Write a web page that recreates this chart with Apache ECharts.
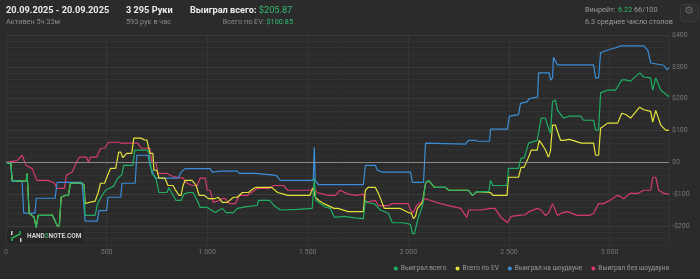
<!DOCTYPE html>
<html><head><meta charset="utf-8">
<script src="https://cdn.jsdelivr.net/npm/echarts@6/dist/echarts.min.js"></script>
<style>html,body{margin:0;padding:0;background:#2b2b2b;}#c{width:700px;height:279px;}</style>
</head><body><div id="c"></div>
<script>
// ---- data (hand number, $ value) ----
const seriesNames = ['Выиграл всего', 'Всего по EV', 'Выиграл на шоудауне', 'Выиграл без шоудауна'];
const xTicks = [0, 500, 1000, 1500, 2000, 2500, 3000];
const yTicks = [-200, -100, 0, 100, 200, 300, 400];

const wonTotal = [[0,0],[25,-5],[30,-57],[100,-60],[105,-35],[108,-35],[115,-160],[140,-173],[150,-205],[160,-167],[220,-167],[230,-165],[255,-200],[265,-200],[274,-110],[295,-104],[310,-104],[320,-66],[370,-66],[388,-70],[393,-167],[443,-167],[455,-130],[478,-104],[495,-88],[535,-75],[555,-50],[575,-40],[585,-10],[630,-10],[640,38],[700,38],[710,30],[725,-35],[745,-50],[760,-95],[800,-95],[810,-80],[845,-120],[870,-120],[885,-100],[905,-95],[930,-95],[955,-126],[965,-142],[1000,-142],[1040,-158],[1060,-150],[1075,-145],[1095,-158],[1130,-158],[1150,-145],[1190,-140],[1199,-135],[1249,-135],[1255,-120],[1310,-120],[1330,-135],[1363,-150],[1448,-148],[1522,-145],[1532,-50],[1540,-120],[1585,-140],[1612,-145],[1632,-173],[1680,-170],[1735,-175],[1776,-177],[1786,-120],[1800,-128],[1830,-130],[1861,-150],[1900,-160],[1920,-190],[1975,-190],[2010,-195],[2020,-224],[2030,-224],[2045,-183],[2070,-136],[2085,-66],[2100,-57],[2130,-79],[2184,-79],[2200,-88],[2298,-88],[2318,-104],[2340,-92],[2400,-92],[2408,-57],[2420,-73],[2490,-73],[2497,-19],[2547,-19],[2560,13],[2575,13],[2597,60],[2640,69],[2660,139],[2680,139],[2691,117],[2706,91],[2716,190],[2730,196],[2741,164],[2770,139],[2800,145],[2856,145],[2870,132],[2920,132],[2930,101],[2945,101],[2955,218],[2990,227],[3030,227],[3060,259],[3080,259],[3104,255],[3149,281],[3170,268],[3204,265],[3214,227],[3229,265],[3254,227],[3295,206]];

const evTotal = [[0,0],[25,-5],[30,-57],[100,-60],[105,-35],[108,-35],[115,-160],[140,-173],[150,-205],[160,-167],[220,-167],[230,-165],[255,-200],[265,-200],[274,-110],[295,-104],[310,-104],[320,-66],[370,-66],[388,-70],[393,-130],[420,-125],[443,-122],[458,-95],[470,-66],[490,-66],[505,-41],[520,-19],[545,-19],[560,32],[570,32],[580,15],[600,28],[625,28],[635,76],[670,76],[690,70],[700,70],[715,28],[730,28],[735,-25],[750,-25],[760,-50],[790,-50],[805,-73],[830,-73],[840,-85],[860,-104],[870,-104],[880,-73],[890,-57],[925,-57],[945,-73],[960,-104],[985,-104],[1005,-114],[1040,-114],[1055,-110],[1075,-126],[1100,-126],[1130,-110],[1150,-110],[1175,-95],[1205,-95],[1225,-85],[1240,-79],[1320,-79],[1350,-95],[1380,-100],[1400,-104],[1510,-104],[1527,-80],[1537,-110],[1555,-120],[1580,-130],[1630,-145],[1650,-145],[1700,-155],[1776,-155],[1786,-88],[1800,-79],[1836,-79],[1855,-104],[1880,-145],[1960,-145],[2000,-158],[2015,-160],[2025,-177],[2035,-170],[2045,-145],[2070,-126],[2085,-66],[2100,-57],[2130,-79],[2184,-79],[2200,-88],[2298,-88],[2318,-104],[2340,-92],[2408,-95],[2420,-104],[2490,-104],[2497,-47],[2547,-47],[2560,-16],[2575,-16],[2597,16],[2610,38],[2640,38],[2650,69],[2660,60],[2680,40],[2696,16],[2706,35],[2716,117],[2730,117],[2756,69],[2771,69],[2800,72],[2860,60],[2920,60],[2930,22],[2945,22],[2955,107],[2990,123],[3040,123],[3060,154],[3080,150],[3104,139],[3149,173],[3170,165],[3204,160],[3214,126],[3229,163],[3254,117],[3280,100],[3295,101]];

const wonShowdown = [[0,0],[25,-5],[30,-60],[80,-60],[88,-160],[144,-160],[150,-113],[244,-113],[254,-63],[378,-63],[393,-185],[453,-185],[463,-152],[500,-152],[507,-110],[570,-110],[577,-66],[642,-66],[650,22],[706,22],[716,-10],[741,-50],[856,-50],[870,-31],[890,-20],[1015,-20],[1025,-31],[1065,-28],[1149,-28],[1159,-35],[1240,-35],[1249,-41],[1343,-41],[1363,-57],[1527,-57],[1532,47],[1537,-57],[1552,-70],[1776,-70],[1786,-10],[1836,-10],[1846,-25],[1870,-31],[2010,-31],[2020,-63],[2075,-63],[2085,60],[2284,57],[2298,69],[2333,69],[2343,66],[2403,66],[2408,104],[2492,104],[2502,145],[2547,150],[2557,185],[2590,190],[2600,200],[2642,205],[2647,281],[2700,281],[2706,258],[2716,265],[2721,330],[2741,306],[2920,306],[2930,265],[2945,265],[2955,344],[2990,353],[3030,360],[3055,366],[3169,366],[3189,353],[3204,312],[3269,305],[3285,290],[3295,298]];

const wonNoShowdown = [[0,0],[30,3],[55,5],[80,22],[88,22],[100,-10],[130,-20],[154,-57],[210,-57],[240,-65],[254,-82],[290,-82],[300,-41],[330,-30],[350,0],[365,16],[400,16],[410,0],[420,16],[450,16],[470,44],[490,44],[510,63],[560,63],[570,60],[655,60],[665,50],[675,44],[715,44],[725,0],[745,0],[755,-35],[800,-35],[830,-45],[880,-50],[900,-66],[925,-73],[950,-73],[965,-50],[990,-50],[1000,-88],[1015,-88],[1030,-126],[1060,-120],[1075,-114],[1090,-114],[1110,-130],[1140,-130],[1160,-104],[1200,-104],[1220,-95],[1250,-82],[1310,-82],[1330,-73],[1380,-73],[1400,-88],[1515,-88],[1527,-79],[1547,-95],[1600,-104],[1637,-104],[1660,-88],[1700,-100],[1740,-104],[1776,-100],[1786,-126],[1836,-120],[1850,-136],[1900,-136],[1920,-130],[2000,-130],[2010,-150],[2025,-158],[2040,-136],[2060,-126],[2085,-114],[2110,-120],[2159,-130],[2200,-136],[2260,-145],[2290,-173],[2300,-150],[2358,-150],[2408,-145],[2430,-145],[2460,-173],[2492,-190],[2510,-170],[2547,-167],[2580,-165],[2600,-155],[2640,-145],[2660,-150],[2680,-167],[2696,-160],[2716,-130],[2741,-167],[2760,-160],[2790,-155],[2840,-167],[2900,-167],[2920,-160],[2945,-130],[2970,-130],[3000,-120],[3040,-104],[3060,-110],[3070,-115],[3100,-98],[3140,-98],[3170,-88],[3204,-88],[3214,-47],[3229,-47],[3244,-88],[3270,-98],[3295,-100]];

const colors = ['#1fae64', '#e3e23c', '#3a8ed8', '#d63a6e'];
const FAM = 'Roboto';

function fmtHands(v){ return String(v).replace(/\B(?=(\d{3})+(?!\d))/g, ' '); }
function fmtMoney(v){ return v < 0 ? '-$' + (-v) : '$' + v; }

const chart = echarts.init(document.getElementById('c'), null, {renderer:'canvas'});
const minor = '#313131', major = '#3b3b3b';
function mkSeries(i, data, z){
  return {name: seriesNames[i], type:'line', data: data, showSymbol:false, symbol:'none',
    lineStyle:{width:1.2, color: colors[i]}, itemStyle:{color: colors[i]}, z: z, silent:true, animation:false};
}
const s0 = mkSeries(0, wonTotal, 5);
s0.markLine = {silent:true, symbol:'none', label:{show:false}, lineStyle:{color:'#8a8a8a', type:'solid', width:1}, data:[{yAxis:0}]};

function T(fs, color, bold){ return {fontSize:fs, fontFamily:FAM, fontWeight: bold ? 'bold' : 'normal', fill:color}; }

chart.setOption({
  backgroundColor:'#2b2b2b',
  animation:false,
  textStyle:{fontFamily: FAM},
  grid:{left:6, right:31, top:35, bottom:34, containLabel:false},
  xAxis:{type:'value', min:0, max:3295, interval:500,
    axisLine:{show:false}, axisTick:{show:false},
    axisLabel:{color:'#777', fontSize:7, margin:4, formatter: v => xTicks.includes(v) ? fmtHands(v) : ''},
    splitLine:{show:true, lineStyle:{color:'#353535', width:1}}},
  yAxis:{type:'value', position:'right', min:-260, max:400, interval:20,
    axisLine:{show:false}, axisTick:{show:false},
    axisLabel:{color:'#777', fontSize:7, margin:3, formatter: v => yTicks.includes(v) ? fmtMoney(v) : ''},
    splitLine:{show:true, lineStyle:{color:[minor, minor, minor, major, minor], width:1}}},
  legend:{right:26, bottom:2, icon:'circle', itemWidth:4, itemHeight:4, itemGap:9,
    textStyle:{color:'#9a9a9a', fontSize:6.6, fontFamily: FAM, padding:[0,0,0,-2]}, data: seriesNames},
  series:[s0, mkSeries(1, evTotal, 4), mkSeries(2, wonShowdown, 3), mkSeries(3, wonNoShowdown, 2)],
  graphic:[
    {type:'text', left:6, top:6, style:Object.assign({text:'20.09.2025 - 20.09.2025'}, T(9.2, '#ececec', true))},
    {type:'text', left:6, top:19, style:Object.assign({text:'Активен 5ч 33м'}, T(7.3, '#8a8a8a'))},
    {type:'text', left:126, top:6, style:Object.assign({text:'3 295 Руки'}, T(9.2, '#ececec', true))},
    {type:'text', left:126, top:19, style:Object.assign({text:'593 рук в час'}, T(7.3, '#8a8a8a'))},
    {type:'text', left:190, top:6, style:{rich:{a:T(9.2, '#ececec', true), b:T(9.2, '#2fbd70')}, text:'{a|Выиграл всего: }{b|$205.87}'}},
    {type:'text', right:407, top:19, style:{rich:{a:T(7.3, '#8a8a8a'), b:T(7.3, '#2fbd70')}, text:'{a|Всего по EV: }{b|$100.85}'}},
    {type:'text', left:585, top:7, style:Object.assign({text:'Винрейт:'}, T(7.3, '#9a9a9a'))},
    {type:'text', left:618, top:7, style:Object.assign({text:'6.22'}, T(7.3, '#2fbd70'))},
    {type:'text', left:634, top:7, style:Object.assign({text:'66/100'}, T(7.3, '#9a9a9a'))},
    {type:'text', left:585, top:19, style:Object.assign({text:'6.3 среднее число столов'}, T(7.3, '#9a9a9a'))},
    {type:'rect', left:680, top:4, shape:{width:18, height:17, r:3}, style:{fill:'#2e2e2e', stroke:'#3a3a3a', lineWidth:1}},
    {type:'text', left:684, top:6, style:{text:'⚙', fill:'#6a6a6a', fontSize:11, fontFamily:'DejaVu Sans'}},
    {type:'rect', left:7, top:229, shape:{width:76, height:14}, style:{fill:'#262626'}, z:10},
    {type:'rect', left:11, top:231, shape:{width:1.5, height:4}, style:{fill:'#cfcfcf'}, z:11},
    {type:'rect', left:20, top:238, shape:{width:1.5, height:4}, style:{fill:'#cfcfcf'}, z:11},
    {type:'polyline', shape:{points:[[12,241],[12,238],[20,234],[20,231]]}, style:{stroke:'#2fae56', lineWidth:1.5, fill:null}, z:11},
    {type:'text', left:27, top:233, z:11, style:{rich:{a:T(6.5, '#d0d0d0', true), b:T(6.5, '#2fae56', true)}, text:'{a|HAND}{b|2}{a|NOTE.COM}'}}
  ]
});
</script></body></html>
